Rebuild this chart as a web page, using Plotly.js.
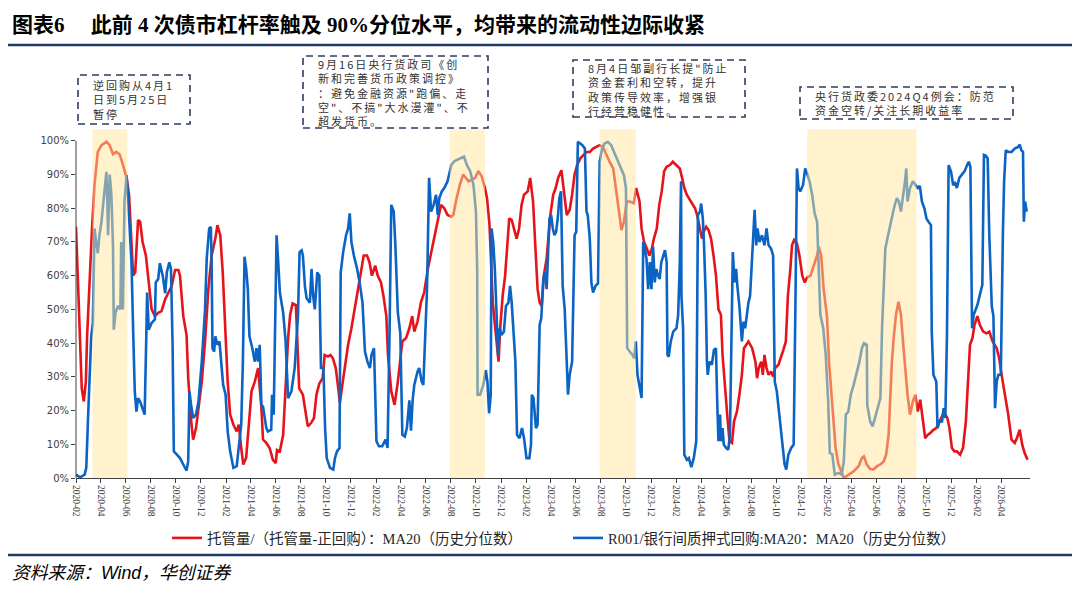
<!DOCTYPE html>
<html><head><meta charset="utf-8">
<script src="https://cdn.plot.ly/plotly-3.0.1.min.js"></script>
<style>
html,body{margin:0;padding:0;background:#fff}#chart{width:1080px;height:589px}
.annotation[data-index="0"] text,.annotation[data-index="1"] text,.annotation[data-index="2"] text,.annotation[data-index="3"] text{letter-spacing:2px}
</style>
</head><body><div id="chart"></div>
<script>
const redDates = ['2020-02-01','2020-02-07','2020-02-11','2020-02-15','2020-02-20','2020-02-25','2020-02-28','2020-03-05','2020-03-11','2020-03-17','2020-03-25','2020-04-03','2020-04-15','2020-04-23','2020-05-01','2020-05-09','2020-05-17','2020-05-25','2020-06-03','2020-06-09','2020-06-15','2020-06-19','2020-06-24','2020-07-01','2020-07-06','2020-07-12','2020-07-20','2020-07-27','2020-08-03','2020-08-11','2020-08-19','2020-08-27','2020-09-05','2020-09-13','2020-09-21','2020-09-29','2020-10-07','2020-10-11','2020-10-19','2020-10-27','2020-10-31','2020-11-08','2020-11-12','2020-11-19','2020-11-25','2020-12-03','2020-12-11','2020-12-19','2020-12-27','2021-01-05','2021-01-10','2021-01-17','2021-01-23','2021-01-29','2021-02-04','2021-02-10','2021-02-18','2021-02-26','2021-03-03','2021-03-09','2021-03-14','2021-03-21','2021-03-27','2021-04-03','2021-04-11','2021-04-19','2021-04-27','2021-05-01','2021-05-09','2021-05-17','2021-05-25','2021-06-01','2021-06-04','2021-06-11','2021-06-19','2021-06-25','2021-07-01','2021-07-06','2021-07-12','2021-07-20','2021-07-24','2021-07-28','2021-08-06','2021-08-13','2021-08-18','2021-08-26','2021-09-02','2021-09-08','2021-09-15','2021-09-23','2021-09-28','2021-10-06','2021-10-12','2021-10-18','2021-10-25','2021-10-31','2021-11-04','2021-11-10','2021-11-16','2021-11-24','2021-12-02','2021-12-10','2021-12-18','2021-12-25','2022-01-01','2022-01-09','2022-01-15','2022-01-21','2022-01-29','2022-02-04','2022-02-12','2022-02-18','2022-02-25','2022-03-01','2022-03-09','2022-03-17','2022-03-25','2022-04-05','2022-04-14','2022-04-22','2022-04-29','2022-05-04','2022-05-12','2022-05-20','2022-05-28','2022-06-06','2022-06-14','2022-06-22','2022-06-30','2022-07-08','2022-07-16','2022-07-24','2022-08-02','2022-08-07','2022-08-15','2022-08-23','2022-08-31','2022-09-07','2022-09-13','2022-09-21','2022-09-29','2022-10-07','2022-10-15','2022-10-23','2022-10-28','2022-11-03','2022-11-06','2022-11-11','2022-11-17','2022-11-21','2022-11-25','2022-11-29','2022-12-05','2022-12-11','2022-12-16','2022-12-21','2022-12-27','2023-01-02','2023-01-08','2023-01-14','2023-01-20','2023-01-26','2023-02-04','2023-02-10','2023-02-17','2023-02-22','2023-02-28','2023-03-05','2023-03-10','2023-03-15','2023-03-22','2023-03-31','2023-04-07','2023-04-13','2023-04-19','2023-04-27','2023-05-05','2023-05-10','2023-05-17','2023-05-23','2023-05-29','2023-06-04','2023-06-12','2023-06-19','2023-06-27','2023-07-05','2023-07-13','2023-07-21','2023-07-29','2023-08-06','2023-08-14','2023-08-22','2023-08-31','2023-09-08','2023-09-14','2023-09-20','2023-09-26','2023-10-03','2023-10-10','2023-10-20','2023-10-26','2023-11-03','2023-11-08','2023-11-14','2023-11-21','2023-11-27','2023-12-03','2023-12-08','2023-12-15','2023-12-21','2023-12-27','2024-01-02','2024-01-08','2024-01-16','2024-01-23','2024-02-01','2024-02-09','2024-02-14','2024-02-20','2024-02-26','2024-03-05','2024-03-11','2024-03-17','2024-03-22','2024-03-29','2024-04-03','2024-04-07','2024-04-13','2024-04-19','2024-04-25','2024-05-01','2024-05-07','2024-05-13','2024-05-19','2024-05-23','2024-05-29','2024-06-04','2024-06-09','2024-06-15','2024-06-20','2024-06-27','2024-07-03','2024-07-09','2024-07-14','2024-07-19','2024-07-25','2024-08-03','2024-08-11','2024-08-15','2024-08-19','2024-08-25','2024-08-29','2024-09-02','2024-09-07','2024-09-12','2024-09-18','2024-09-23','2024-09-28','2024-10-06','2024-10-12','2024-10-18','2024-10-24','2024-10-29','2024-11-04','2024-11-08','2024-11-13','2024-11-20','2024-11-26','2024-12-03','2024-12-09','2024-12-15','2024-12-23','2024-12-31','2025-01-08','2025-01-12','2025-01-18','2025-01-24','2025-02-01','2025-02-06','2025-02-12','2025-02-17','2025-02-22','2025-03-01','2025-03-08','2025-03-14','2025-03-26','2025-04-07','2025-04-19','2025-04-27','2025-05-02','2025-05-09','2025-05-17','2025-05-25','2025-06-03','2025-06-11','2025-06-19','2025-06-25','2025-07-01','2025-07-05','2025-07-09','2025-07-14','2025-07-19','2025-07-25','2025-07-31','2025-08-05','2025-08-10','2025-08-16','2025-08-22','2025-08-29','2025-09-04','2025-09-10','2025-09-16','2025-09-22','2025-09-28','2025-10-04','2025-10-10','2025-10-18','2025-10-25','2025-11-02','2025-11-10','2025-11-16','2025-11-21','2025-11-26','2025-12-02','2025-12-08','2025-12-14','2025-12-22','2025-12-29','2026-01-05','2026-01-10','2026-01-15','2026-01-21','2026-01-26','2026-02-02','2026-02-08','2026-02-16','2026-02-24','2026-03-03','2026-03-11','2026-03-21','2026-03-27','2026-04-02','2026-04-10','2026-04-18','2026-04-26','2026-05-04','2026-05-09','2026-05-16','2026-05-22','2026-05-28','2026-06-04'];
const redValues = [74.5,54,40.5,26.6,22.7,28.6,42,59,74,87,96.7,98.7,99.7,98.7,96,96.7,96,93,89,84,71,60,61,76.5,76,70,66,57,50,48,49,49.5,53,55,57,61.7,61.7,60,48,42.4,29.6,15.8,11.4,14.8,20.7,28.6,40.5,56,66,71,75,72,61,44,28.6,18.8,15.8,13.8,15.8,8.9,4,6,14.8,25.7,28.6,32.6,21,11.4,10.4,8.9,5.4,4.4,8.3,7.9,12.8,26.6,41.5,48.4,51.8,51.3,40.5,26.6,24.7,18.8,15.3,16.3,17.8,24.7,28,29.6,36.5,36,36.5,35.5,32.6,26.6,22.2,27.6,32.6,39.5,44.4,50.3,55.3,60,66,66,64,60,63,60,58,54,48,36.5,25.7,21.7,28.6,40.5,41.5,44.4,48,43.4,46.4,52,55,62,67,71,76,81,80,78,77.5,78,83,87,90,89,88,88.5,89,91,89.5,86,83,75,64,52,44.4,38.5,34.5,44.4,54,60,69,77,76.5,74,71,74,81,84,85,89,82,70,56,52,51,60,65,78,84,86,89,91.3,84,78,79.5,84,90,92.8,94.8,95.8,96.7,96.7,97.7,98.2,98.7,98.2,95.8,93.8,91.8,85,79,73.5,76,82,82,81.5,86,82,74,70,68,66,68,71,74,81,85,91,92.3,92.8,93.8,92.8,91.8,89.3,86,84,82.4,81,80,78,74,71,73,74.5,73.5,71,66,60,50,48.4,36.5,25.7,17.8,10.9,10.4,16.8,19.7,24.7,30.6,38.5,39.5,40.5,38.5,34.5,29.6,32.6,34.5,30.6,36.5,32.6,30.6,31.6,30.1,32.6,33.6,35.5,38,40.5,54,62,69,70.6,69.6,66,60,58,59.5,60,62.7,66,68.6,66,56,48,34.5,24.7,14.8,8.9,4,1.5,0,1,2,3.5,5.9,6.4,4,2.7,2.5,3.5,4,4.9,6.9,12.8,24.7,34.5,42.4,48.4,52.3,48.4,40.5,32.6,24.7,18.8,22.7,24.7,19.7,23.2,17.8,11.8,12.8,13.3,14.3,14.8,16.8,18.8,18.8,17.8,14.8,8.9,7.9,7.9,6.9,8.9,16.8,28.6,39.5,41.5,45.4,48,45.4,43.4,42.9,43.4,40.5,38.5,35.5,30.6,24.7,18.8,11.4,10.4,11.8,14.3,9.9,7.4,5.4];
const blueDates = ['2020-02-01','2020-02-11','2020-02-22','2020-02-26','2020-03-01','2020-03-05','2020-03-09','2020-03-13','2020-03-17','2020-03-21','2020-03-25','2020-03-29','2020-04-03','2020-04-07','2020-04-11','2020-04-15','2020-04-17','2020-04-19','2020-04-23','2020-04-27','2020-05-01','2020-05-03','2020-05-07','2020-05-13','2020-05-19','2020-05-21','2020-05-25','2020-05-29','2020-06-03','2020-06-07','2020-06-11','2020-06-15','2020-06-19','2020-06-23','2020-06-27','2020-07-01','2020-07-06','2020-07-11','2020-07-17','2020-07-21','2020-07-23','2020-07-27','2020-08-03','2020-08-11','2020-08-13','2020-08-19','2020-08-23','2020-08-30','2020-09-05','2020-09-09','2020-09-15','2020-09-19','2020-09-23','2020-09-26','2020-10-03','2020-10-11','2020-10-19','2020-10-27','2020-10-31','2020-11-03','2020-11-07','2020-11-12','2020-11-19','2020-11-25','2020-12-03','2020-12-11','2020-12-15','2020-12-21','2020-12-25','2020-12-27','2020-12-29','2021-01-02','2021-01-05','2021-01-10','2021-01-15','2021-01-20','2021-01-24','2021-01-30','2021-02-04','2021-02-10','2021-02-18','2021-02-26','2021-03-03','2021-03-09','2021-03-13','2021-03-17','2021-03-21','2021-03-25','2021-03-29','2021-04-05','2021-04-11','2021-04-15','2021-04-19','2021-04-23','2021-04-27','2021-05-01','2021-05-09','2021-05-13','2021-05-21','2021-05-23','2021-05-27','2021-05-29','2021-06-03','2021-06-07','2021-06-11','2021-06-19','2021-06-25','2021-07-01','2021-07-09','2021-07-17','2021-07-25','2021-07-29','2021-08-03','2021-08-06','2021-08-11','2021-08-15','2021-08-23','2021-08-27','2021-08-31','2021-09-04','2021-09-10','2021-09-15','2021-09-19','2021-09-25','2021-09-29','2021-10-03','2021-10-11','2021-10-19','2021-10-23','2021-10-28','2021-11-03','2021-11-06','2021-11-12','2021-11-19','2021-11-24','2021-11-28','2021-12-02','2021-12-08','2021-12-16','2021-12-22','2021-12-29','2022-01-04','2022-01-10','2022-01-16','2022-01-20','2022-01-26','2022-02-01','2022-02-07','2022-02-15','2022-02-23','2022-02-28','2022-03-05','2022-03-09','2022-03-15','2022-03-19','2022-03-25','2022-03-31','2022-04-05','2022-04-11','2022-04-16','2022-04-22','2022-04-26','2022-04-30','2022-05-04','2022-05-08','2022-05-12','2022-05-16','2022-05-22','2022-05-26','2022-05-30','2022-06-04','2022-06-09','2022-06-14','2022-06-20','2022-06-26','2022-06-30','2022-07-04','2022-07-10','2022-07-16','2022-07-24','2022-08-02','2022-08-10','2022-08-15','2022-08-27','2022-09-02','2022-09-09','2022-09-17','2022-09-25','2022-10-01','2022-10-04','2022-10-05','2022-10-11','2022-10-19','2022-10-25','2022-10-29','2022-11-02','2022-11-06','2022-11-08','2022-11-12','2022-11-16','2022-11-20','2022-11-24','2022-11-28','2022-12-02','2022-12-08','2022-12-13','2022-12-19','2022-12-23','2022-12-27','2022-12-31','2023-01-05','2023-01-09','2023-01-15','2023-01-21','2023-01-26','2023-02-01','2023-02-08','2023-02-12','2023-02-14','2023-02-18','2023-02-24','2023-02-28','2023-03-05','2023-03-09','2023-03-14','2023-03-19','2023-03-22','2023-03-26','2023-03-29','2023-04-02','2023-04-06','2023-04-10','2023-04-14','2023-04-18','2023-04-22','2023-04-26','2023-04-30','2023-05-05','2023-05-09','2023-05-13','2023-05-17','2023-05-23','2023-05-29','2023-06-02','2023-06-06','2023-06-12','2023-06-17','2023-06-23','2023-06-27','2023-06-30','2023-07-05','2023-07-09','2023-07-13','2023-07-19','2023-07-25','2023-07-29','2023-08-04','2023-08-10','2023-08-18','2023-08-26','2023-09-04','2023-09-12','2023-09-20','2023-09-26','2023-10-01','2023-10-04','2023-10-10','2023-10-17','2023-10-21','2023-10-25','2023-10-29','2023-11-04','2023-11-08','2023-11-12','2023-11-16','2023-11-20','2023-11-24','2023-11-28','2023-12-02','2023-12-06','2023-12-10','2023-12-14','2023-12-18','2023-12-22','2023-12-26','2024-01-04','2024-01-08','2024-01-10','2024-01-13','2024-01-18','2024-01-24','2024-02-01','2024-02-05','2024-02-09','2024-02-12','2024-02-13','2024-02-17','2024-02-20','2024-02-26','2024-03-02','2024-03-08','2024-03-14','2024-03-20','2024-03-24','2024-03-29','2024-04-01','2024-04-05','2024-04-08','2024-04-12','2024-04-15','2024-04-17','2024-04-21','2024-04-27','2024-05-02','2024-05-07','2024-05-10','2024-05-13','2024-05-17','2024-05-19','2024-05-23','2024-05-26','2024-06-01','2024-06-06','2024-06-10','2024-06-14','2024-06-17','2024-06-21','2024-06-25','2024-06-28','2024-07-03','2024-07-09','2024-07-13','2024-07-17','2024-07-21','2024-07-25','2024-07-29','2024-08-03','2024-08-07','2024-08-09','2024-08-13','2024-08-16','2024-08-21','2024-08-27','2024-09-02','2024-09-07','2024-09-12','2024-09-18','2024-09-23','2024-09-27','2024-10-02','2024-10-10','2024-10-17','2024-10-21','2024-10-25','2024-10-30','2024-11-06','2024-11-12','2024-11-16','2024-11-20','2024-11-24','2024-11-28','2024-12-05','2024-12-10','2024-12-16','2024-12-21','2024-12-27','2025-01-02','2025-01-08','2025-01-12','2025-01-16','2025-01-23','2025-01-29','2025-02-04','2025-02-08','2025-02-14','2025-02-20','2025-03-01','2025-03-09','2025-03-14','2025-03-19','2025-03-25','2025-03-31','2025-04-07','2025-04-13','2025-04-21','2025-04-27','2025-05-02','2025-05-09','2025-05-10','2025-05-17','2025-05-23','2025-05-29','2025-06-04','2025-06-11','2025-06-15','2025-06-19','2025-06-23','2025-06-28','2025-07-05','2025-07-09','2025-07-14','2025-07-21','2025-07-26','2025-07-31','2025-08-05','2025-08-10','2025-08-13','2025-08-16','2025-08-22','2025-08-29','2025-09-04','2025-09-10','2025-09-15','2025-09-20','2025-09-26','2025-10-01','2025-10-06','2025-10-12','2025-10-14','2025-10-18','2025-10-25','2025-10-28','2025-11-02','2025-11-08','2025-11-12','2025-11-16','2025-11-20','2025-11-24','2025-11-30','2025-12-05','2025-12-09','2025-12-14','2025-12-20','2025-12-26','2026-01-02','2026-01-08','2026-01-12','2026-01-16','2026-01-20','2026-01-24','2026-02-02','2026-02-08','2026-02-14','2026-02-18','2026-02-22','2026-02-27','2026-03-03','2026-03-09','2026-03-13','2026-03-17','2026-03-21','2026-03-25','2026-03-31','2026-04-05','2026-04-08','2026-04-12','2026-04-18','2026-04-26','2026-05-04','2026-05-12','2026-05-16','2026-05-20','2026-05-24','2026-05-26','2026-05-29','2026-06-02'];
const blueValues = [1,0.2,1,3,16.8,32.6,42,46,74,70,66.6,72,76,81,85,90.8,83,72,90,84,69,44,49,51,50,70,50,82,89.8,83,73,64,44,25.7,19.7,23.7,22.7,20.7,18.8,42,55,44,46,47,58,59,63.7,60,54.8,61,64,62,39.5,7.9,6.9,5.9,4,2.2,5,25.7,21.7,17.8,18.8,22.7,34.5,50,65,74,74.5,64,38.5,37.5,42,39.5,40.5,34.5,27.6,24.7,13.8,7.9,3,3.5,8.9,15.8,34.5,65.6,62,56,42,38.5,34.5,38.5,34.5,39.5,21.7,21.2,14.8,13.8,14.3,24.7,18.8,34.5,72,64,55,49,40.5,23.7,25.7,32.6,48,67,67.5,66,56.8,53.3,52,62,54,50,61,60,32.6,32.6,14.8,5.9,3,2.5,5.9,7.9,8.9,61,67,72,74,78.5,70,66,62,58,52,37.5,34.5,32.6,36.5,38.5,10.9,9.4,9.4,11.4,8.9,44.4,81,79,69,49,43,12.8,12.3,14.8,23,14,23,27.6,29.6,31.6,32.6,28.6,27.6,41.5,56,89,79,81,84,78,83,85,86,88,92.8,94,94.3,94.8,95.3,92.8,91,87,79,62,24.7,24.7,27.6,32,28.6,19.2,24.7,74,70,62,48.4,36.5,44.4,42.4,43.4,51,52,57,52,44.4,34.5,12.8,11.8,14.8,11.8,5.9,5.9,9.9,24.7,23.7,14.8,15.8,45.4,47.4,59,61,56,68,77,78,74,72,73,77,83,85,57,50,38.5,24.7,30.6,34.5,72,73,99.7,99.2,98.7,97.7,79,78,71,57.7,55,57,57.7,93.8,97.7,99.2,99.7,98.7,96.2,93.8,91.3,89.8,86,38.5,37.5,36.5,35.5,40.5,30.6,25.7,23.7,70,68,65,56,64,56,68.6,58,62,60,59,64,67.6,64,36.5,36,40.5,43.4,44.4,48.4,64,88,54,44.4,6.9,5.4,5.9,3.2,5.9,10.9,78,79,81.4,77,69,54,34.5,30.6,34.5,33.6,38,38.5,22.7,10.9,18.8,10.9,14.8,9.9,8.9,8.4,12.8,42.4,67,58,62,57,51,40.5,46.4,44.4,48.4,52,54,66,72,79.5,69,74,70,72,69,74,69,68,66,28.6,25.7,16.8,7.9,4,2.5,6.9,8.9,9.9,48.4,91.8,86,85,87,91.8,89.8,87.8,84,78.5,76,62,48.4,44.4,36.5,22.7,7.4,7,1,1.5,1,5,18.8,19.7,24.7,27.6,30.6,34.5,38.5,40,39.5,21.7,16.8,15.3,17.8,20.7,23.7,44.4,59,68,71,75,78,80,83,82,79,83,88,91.8,82,86,88,87,86,86.6,82,80,77,76,75,43.4,30.6,28.6,14.8,16.8,16.8,20.7,17.8,42.4,92.8,90.8,86.8,87.8,86,89,90,91,92.8,93.8,92.3,44.4,48.4,51.3,54.3,57.3,95.8,95.6,94.8,72,51,48,20.7,28.6,30.6,30.6,72,88,97.2,96.7,96.7,97.7,98.2,98.9,97.2,96.7,76,82,79];
const shadeStart = ['2020-03-12','2022-07-29','2023-07-29','2024-12-15'];
const shadeEnd = ['2020-06-05','2022-10-23','2023-10-25','2025-09-07'];
const seriesNames = ['托管量/（托管量-正回购）：MA20（历史分位数）','R001/银行间质押式回购:MA20：MA20（历史分位数）'];
const yTickVals = [0,10,20,30,40,50,60,70,80,90,100];
const yTickText = ['0%','10%','20%','30%','40%','50%','60%','70%','80%','90%','100%'];
const xTickVals = ['2020-02-01','2020-04-01','2020-06-01','2020-08-01','2020-10-01','2020-12-01','2021-02-01','2021-04-01','2021-06-01','2021-08-01','2021-10-01','2021-12-01','2022-02-01','2022-04-01','2022-06-01','2022-08-01','2022-10-01','2022-12-01','2023-02-01','2023-04-01','2023-06-01','2023-08-01','2023-10-01','2023-12-01','2024-02-01','2024-04-01','2024-06-01','2024-08-01','2024-10-01','2024-12-01','2025-02-01','2025-04-01','2025-06-01','2025-08-01','2025-10-01','2025-12-01','2026-02-01','2026-04-01'];
const noteLines = [
  ['逆回购从4月1','日到5月25日','暂停'],
  ['9月16日央行货政司《创','新和完善货币政策调控》','：避免金融资源"跑偏、走','空"、不搞"大水漫灌"、不','超发货币。'],
  ['8月4日邹副行长提"防止','资金套利和空转，提升','政策传导效率，增强银','行经营稳健性。'],
  ['央行货政委2024Q4例会：防范','资金空转/关注长期收益率']
];
const titleText = '图表6　 此前 4 次债市杠杆率触及 90%分位水平，均带来的流动性边际收紧';
const sourceText = '资料来源：Wind，华创证券';

// plot-area geometry (pixels) used to place decorations
const PL = 76, PR = 1030, PT = 129, PB = 478;
const fx = p => (p - PL) / (PR - PL);
const fy = p => (PB - p) / (PB - PT);

const noteBoxes = [
  {x0:78, x1:190, y0:75, y1:124, tx:92, ty:99.5},
  {x0:303, x1:488, y0:56, y1:128, tx:317, ty:92.5},
  {x0:573, x1:745, y0:60, y1:117, tx:587, ty:89},
  {x0:800, x1:1013, y0:87, y1:119, tx:814, ty:103}
];

const shapes = [];
const annotations = [];
for (let i = 0; i < shadeStart.length; i++) {
  shapes.push({type:'rect', xref:'x', yref:'y', x0:shadeStart[i], x1:shadeEnd[i], y0:0, y1:103.4,
    fillcolor:'#FFE599', opacity:0.5, line:{width:0}, layer:'above'});
}
noteBoxes.forEach((b, i) => {
  shapes.push({type:'rect', xref:'paper', yref:'paper', x0:fx(b.x0), x1:fx(b.x1), y0:fy(b.y1), y1:fy(b.y0),
    line:{color:'#2E3D5C', width:1.6, dash:'7px,5px'}, fillcolor:'rgba(0,0,0,0)'});
  annotations.push({xref:'paper', yref:'paper', x:fx(b.tx), y:fy(b.ty), xanchor:'left', yanchor:'middle', align:'left',
    text:noteLines[i].join('<br>'), showarrow:false, borderpad:0,
    font:{family:'Noto Sans CJK SC, sans-serif', size:11, color:'#333333'}});
});
// y axis line from 0 to 100%
shapes.push({type:'line', xref:'paper', yref:'y', x0:0, x1:0, y0:0, y1:100, line:{color:'#404040', width:1}});
// separator lines
shapes.push({type:'line', xref:'paper', yref:'paper', x0:fx(8), x1:fx(1072), y0:fy(45), y1:fy(45), line:{color:'#1F3864', width:2.5}});
shapes.push({type:'line', xref:'paper', yref:'paper', x0:fx(8), x1:fx(1072), y0:fy(555), y1:fy(555), line:{color:'#1F3864', width:2.5}});
annotations.push({xref:'paper', yref:'paper', x:fx(10), y:fy(573), xanchor:'left', yanchor:'middle', showarrow:false,
  text:'<i>'+sourceText+'</i>', font:{family:'Liberation Sans, Noto Sans CJK SC, sans-serif', size:17.8, color:'#000000'}});

const traces = [
  {x:redDates, y:redValues, name:seriesNames[0], type:'scatter', mode:'lines', line:{color:'#E5141B', width:2.6}},
  {x:blueDates, y:blueValues, name:seriesNames[1], type:'scatter', mode:'lines', line:{color:'#0B63C4', width:2.6}}
];

const layout = {
  width:1080, height:589,
  margin:{l:PL, r:1080-PR, t:PT, b:589-PB, pad:0},
  paper_bgcolor:'#ffffff', plot_bgcolor:'#ffffff',
  title:{text:'<b>'+titleText+'</b>', xref:'container', yref:'container', x:12/1080, xanchor:'left', y:1-25/589, yanchor:'middle',
    font:{family:'Liberation Serif, Noto Sans CJK SC, serif', size:21, color:'#000000'}},
  xaxis:{type:'date', range:['2020-02-01','2026-06-10'], tickvals:xTickVals, tickformat:'%Y-%m', tickangle:90,
    showline:true, linecolor:'#404040', linewidth:1, ticks:'outside', ticklen:4, tickcolor:'#404040', showgrid:false, zeroline:false,
    tickfont:{family:'Liberation Serif, serif', size:9.5, color:'#404040'}},
  yaxis:{range:[0,103.5], tickvals:yTickVals, ticktext:yTickText, showline:false, ticks:'outside', ticklen:4, tickcolor:'#404040',
    showgrid:false, zeroline:false, tickfont:{family:'DejaVu Sans, sans-serif', size:10, color:'#404040'}},
  showlegend:true,
  legend:{orientation:'h', x:fx(167), xanchor:'left', y:fy(538), yanchor:'middle', entrywidth:356, entrywidthmode:'pixels',
    font:{family:'Liberation Serif, Noto Sans CJK SC, serif', size:14.5, color:'#262626'}, bgcolor:'rgba(0,0,0,0)', borderwidth:0},
  shapes:shapes, annotations:annotations
};

Plotly.newPlot('chart', traces, layout, {displayModeBar:false, staticPlot:true});
</script></body></html>
